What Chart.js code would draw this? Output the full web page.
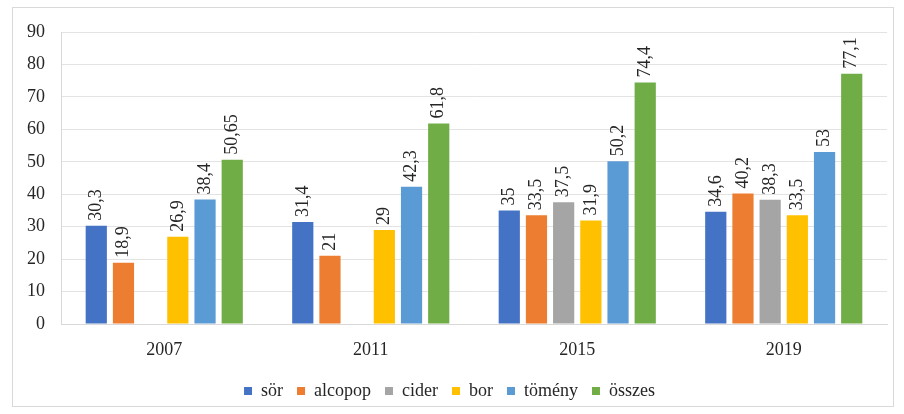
<!DOCTYPE html>
<html>
<head>
<meta charset="utf-8">
<script src="https://cdn.jsdelivr.net/npm/chart.js@4/dist/chart.umd.min.js"></script>
<style>
  html, body { margin: 0; padding: 0; background: #fff; }
  #wrap { width: 904px; height: 414px; position: relative; }
</style>
</head>
<body>
<div id="wrap"><canvas id="chart" width="904" height="414"></canvas></div>
<script>
// ------------------------
// Data
// ------------------------
const years = ["2007", "2011", "2015", "2019"];
const sor = [30.3, 31.4, 35, 34.6];
const alcopop = [18.9, 21, 33.5, 40.2];
const cider = [null, null, 37.5, 38.3];
const bor = [26.9, 29, 31.9, 33.5];
const tomeny = [38.4, 42.3, 50.2, 53];
const osszes = [50.65, 61.8, 74.4, 77.1];
const yTicks = [0, 10, 20, 30, 40, 50, 60, 70, 80, 90];

const FONT = "'Liberation Serif', 'Times New Roman', serif";
Chart.defaults.font.family = FONT;
Chart.defaults.font.size = 18;
Chart.defaults.color = "#262626";

// ------------------------
// Plugins: outer frame + rotated value labels
// ------------------------
const framePlugin = {
    id: "frame",
    beforeDraw(chart) {
        const ctx = chart.ctx;
        ctx.save();
        ctx.strokeStyle = "#d9d9d9";
        ctx.lineWidth = 1;
        ctx.strokeRect(12.5, 7.5, 881, 399);
        ctx.restore();
    },
};

const valueLabels = {
    id: "valueLabels",
    afterDatasetsDraw(chart) {
        const ctx = chart.ctx;
        ctx.save();
        ctx.font = "18px " + FONT;
        ctx.fillStyle = "#262626";
        ctx.textAlign = "left";
        ctx.textBaseline = "middle";
        chart.data.datasets.forEach((ds, i) => {
            const meta = chart.getDatasetMeta(i);
            meta.data.forEach((bar, j) => {
                const v = ds.data[j];
                if (v === null || v === undefined) return;
                ctx.save();
                ctx.translate(bar.x, bar.y - 5);
                ctx.rotate(-Math.PI / 2);
                ctx.fillText(String(v).replace(".", ","), 0, 0);
                ctx.restore();
            });
        });
        ctx.restore();
    },
};

const series = [
    { label: "sör", data: sor, backgroundColor: "#4472C4" },
    { label: "alcopop", data: alcopop, backgroundColor: "#ED7D31" },
    { label: "cider", data: cider, backgroundColor: "#A5A5A5" },
    { label: "bor", data: bor, backgroundColor: "#FFC000" },
    { label: "tömény", data: tomeny, backgroundColor: "#5B9BD5" },
    { label: "összes", data: osszes, backgroundColor: "#70AD47" },
];

new Chart(document.getElementById("chart").getContext("2d"), {
    type: "bar",
    data: {
        labels: years,
        datasets: series.map(s => ({
            ...s,
            categoryPercentage: 0.79,
            barPercentage: 0.78,
        })),
    },
    options: {
        responsive: false,
        animation: false,
        layout: { padding: { left: 12, right: 17, top: 32, bottom: 4 } },
        scales: {
            x: {
                grid: { display: false, drawTicks: false },
                border: { color: "#d9d9d9" },
                ticks: { font: { family: FONT, size: 18 }, color: "#262626", padding: 15 },
                afterFit: (scale) => { scale.height = 44; },
            },
            y: {
                min: 0,
                max: 90,
                afterBuildTicks: (scale) => { scale.ticks = yTicks.map(v => ({ value: v })); },
                grid: { color: "#e3e3e3", drawTicks: false },
                border: { color: "#d9d9d9" },
                ticks: { font: { family: FONT, size: 18 }, color: "#262626", padding: 16 },
                afterFit: (scale) => { scale.width = 49; },
            },
        },
        plugins: {
            legend: {
                position: "bottom",
                labels: {
                    font: { family: FONT, size: 18 },
                    color: "#262626",
                    boxWidth: 8,
                    boxHeight: 8,
                    padding: 14,
                },
            },
            tooltip: { enabled: false },
        },
    },
    plugins: [framePlugin, valueLabels],
});
</script>
</body>
</html>
